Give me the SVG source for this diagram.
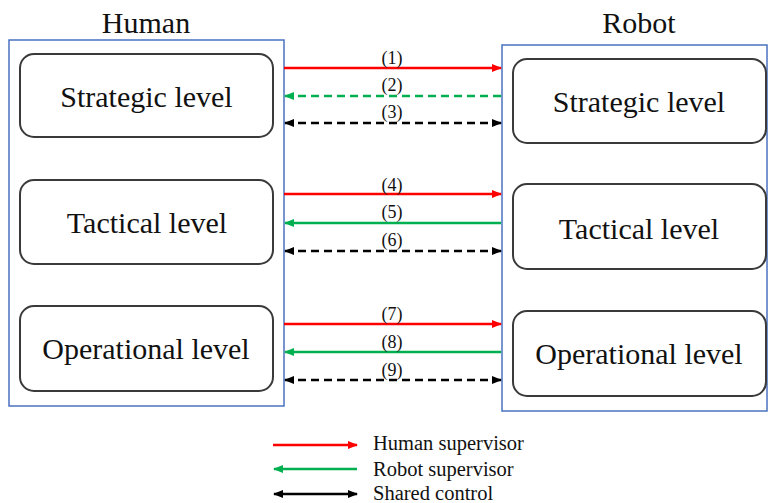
<svg xmlns="http://www.w3.org/2000/svg" width="768" height="503" viewBox="0 0 768 503">
  <style>
    .panel { fill: none; stroke: #4a72c0; stroke-width: 1.5; }
    .box { fill: #ffffff; stroke: #3a3a3a; stroke-width: 2; }
    .title { font-family: "Liberation Serif", "Times New Roman", serif; font-size: 30px; fill: #111; text-anchor: middle; }
    .lvl { font-family: "Liberation Serif", "Times New Roman", serif; font-size: 30px; fill: #111; text-anchor: middle; }
    .num { font-family: "Liberation Serif", "Times New Roman", serif; font-size: 18px; fill: #111; text-anchor: middle; }
    .leg { font-family: "Liberation Serif", "Times New Roman", serif; font-size: 20.5px; fill: #111; }
    .red { stroke: #ff0000; stroke-width: 2.5; fill: none; }
    .green { stroke: #00b050; stroke-width: 2.5; fill: none; }
    .black { stroke: #000000; stroke-width: 2.5; fill: none; }
    .dash { stroke-dasharray: 8 5; }
  </style>
  <defs>
    <marker id="headRed" viewBox="0 0 10 8" refX="9" refY="4" markerWidth="10" markerHeight="8" markerUnits="userSpaceOnUse" orient="auto-start-reverse">
      <path d="M0,0 L10,4 L0,8 Z" fill="#ff0000"/>
    </marker>
    <marker id="headGreen" viewBox="0 0 10 8" refX="9" refY="4" markerWidth="10" markerHeight="8" markerUnits="userSpaceOnUse" orient="auto-start-reverse">
      <path d="M0,0 L10,4 L0,8 Z" fill="#00b050"/>
    </marker>
    <marker id="headBlack" viewBox="0 0 10 8" refX="9" refY="4" markerWidth="10" markerHeight="8" markerUnits="userSpaceOnUse" orient="auto-start-reverse">
      <path d="M0,0 L10,4 L0,8 Z" fill="#000000"/>
    </marker>
  </defs>

  <rect width="768" height="503" fill="#ffffff"/>

  <!-- Human side -->
  <g id="human">
    <text class="title" x="146" y="33">Human</text>
    <rect class="panel" x="9" y="40" width="275" height="366"/>
  </g>
  <g id="human-strategic">
    <rect class="box" x="20" y="54" width="253" height="83" rx="14"/>
    <text class="lvl" x="146.5" y="107">Strategic level</text>
  </g>
  <g id="human-tactical">
    <rect class="box" x="20" y="180" width="253" height="84" rx="14"/>
    <text class="lvl" x="147" y="233">Tactical level</text>
  </g>
  <g id="human-operational">
    <rect class="box" x="20" y="306" width="253" height="85" rx="14"/>
    <text class="lvl" x="146" y="359">Operational level</text>
  </g>

  <!-- Robot side -->
  <g id="robot">
    <text class="title" x="639" y="33">Robot</text>
    <rect class="panel" x="502" y="45" width="265" height="366"/>
  </g>
  <g id="robot-strategic">
    <rect class="box" x="513" y="59" width="253" height="84" rx="14"/>
    <text class="lvl" x="639" y="112">Strategic level</text>
  </g>
  <g id="robot-tactical">
    <rect class="box" x="513" y="184" width="253" height="85" rx="14"/>
    <text class="lvl" x="639" y="239">Tactical level</text>
  </g>
  <g id="robot-operational">
    <rect class="box" x="513" y="311" width="253" height="85" rx="14"/>
    <text class="lvl" x="639" y="364">Operational level</text>
  </g>

  <!-- Links between levels -->
  <g id="connectors">
    <line class="red" x1="284" y1="68" x2="501" y2="68" marker-end="url(#headRed)"/>
    <line class="green dash" x1="501" y1="96" x2="285" y2="96" marker-end="url(#headGreen)"/>
    <line class="black dash" x1="285" y1="123" x2="501" y2="123" marker-start="url(#headBlack)" marker-end="url(#headBlack)"/>

    <line class="red" x1="284" y1="194" x2="501" y2="194" marker-end="url(#headRed)"/>
    <line class="green" x1="501" y1="223" x2="285" y2="223" marker-end="url(#headGreen)"/>
    <line class="black dash" x1="285" y1="251" x2="501" y2="251" marker-start="url(#headBlack)" marker-end="url(#headBlack)"/>

    <line class="red" x1="284" y1="324" x2="501" y2="324" marker-end="url(#headRed)"/>
    <line class="green" x1="501" y1="352" x2="285" y2="352" marker-end="url(#headGreen)"/>
    <line class="black dash" x1="285" y1="380" x2="501" y2="380" marker-start="url(#headBlack)" marker-end="url(#headBlack)"/>

    <text class="num" x="392" y="64">(1)</text>
    <text class="num" x="392" y="91">(2)</text>
    <text class="num" x="392" y="118">(3)</text>
    <text class="num" x="392" y="191">(4)</text>
    <text class="num" x="392" y="218">(5)</text>
    <text class="num" x="392" y="246">(6)</text>
    <text class="num" x="392" y="320">(7)</text>
    <text class="num" x="392" y="348">(8)</text>
    <text class="num" x="392" y="376">(9)</text>
  </g>

  <!-- Legend -->
  <g id="legend">
    <line class="red" x1="273" y1="445" x2="357" y2="445" marker-end="url(#headRed)"/>
    <line class="green" x1="357" y1="469" x2="274" y2="469" marker-end="url(#headGreen)"/>
    <line class="black" x1="274" y1="494" x2="357" y2="494" marker-start="url(#headBlack)" marker-end="url(#headBlack)"/>
    <text class="leg" x="373" y="450">Human supervisor</text>
    <text class="leg" x="373" y="476">Robot supervisor</text>
    <text class="leg" x="373" y="500">Shared control</text>
  </g>
</svg>
